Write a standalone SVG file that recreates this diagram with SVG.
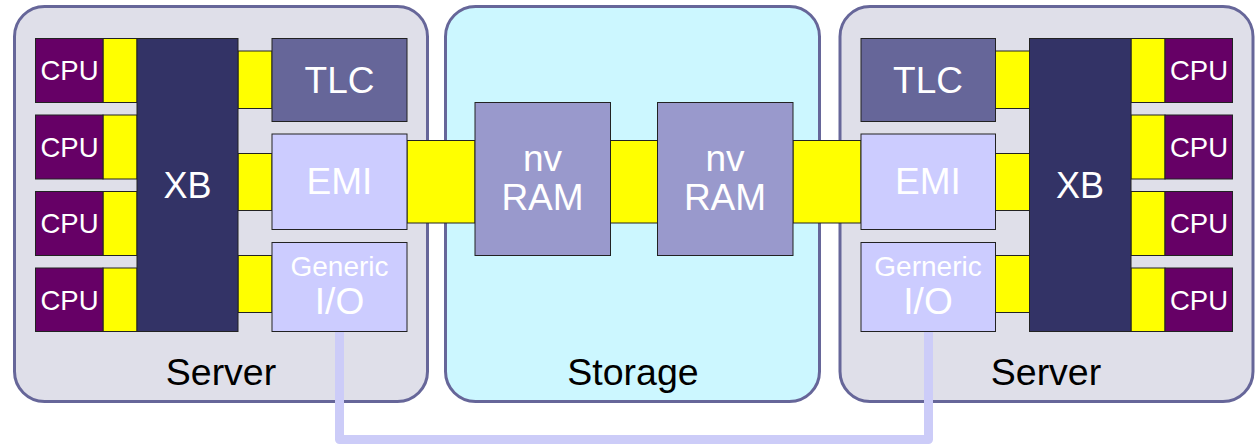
<svg xmlns="http://www.w3.org/2000/svg" width="1259" height="446" viewBox="0 0 1259 446">
<style>
text{font-family:"Liberation Sans",Arial,sans-serif;text-anchor:middle;fill:#fff}
.frame{stroke:#666699;stroke-width:3}
.srv{fill:#dfdfe9}
.sto{fill:#ccf7ff}
.b{stroke:#222;stroke-width:1}
.cpu{fill:#660066}
.y{fill:#ffff00}
.xb{fill:#333366}
.tlc{fill:#666699}
.emi{fill:#ccccff}
.nv{fill:#9999cc}
.lbl{fill:#000;font-size:37.5px}
.cpt{font-size:27.5px}
.big{font-size:37px}
.gen{font-size:28px}
</style>
<g id="server-left">
<rect class="srv frame" x="14.5" y="6.5" width="413" height="395" rx="30"/>
<text class="lbl" x="221" y="384.5">Server</text>
</g>
<g id="storage">
<rect class="sto frame" x="445.5" y="6.5" width="374" height="395" rx="30"/>
<text class="lbl" x="633" y="384.5">Storage</text>
</g>
<g id="server-right">
<rect class="srv frame" x="840" y="6.5" width="413" height="395" rx="30"/>
<text class="lbl" x="1046" y="384.5">Server</text>
</g>
<g id="connectors">
<rect class="y b" x="103" y="38.5" width="34" height="64"/>
<rect class="y b" x="103" y="115" width="34" height="64"/>
<rect class="y b" x="103" y="191.5" width="34" height="64"/>
<rect class="y b" x="103" y="268" width="34" height="63.5"/>
<rect class="y b" x="238" y="51" width="34" height="57.5"/>
<rect class="y b" x="238" y="153.5" width="34" height="57"/>
<rect class="y b" x="238" y="255.5" width="34" height="57"/>
<rect class="y b" x="407" y="140.5" width="68" height="82.5"/>
<rect class="y b" x="610.5" y="140.5" width="47" height="82.5"/>
<rect class="y b" x="793" y="140.5" width="68" height="82.5"/>
<rect class="y b" x="995.5" y="51" width="34" height="57.5"/>
<rect class="y b" x="995.5" y="153.5" width="34" height="57"/>
<rect class="y b" x="995.5" y="255.5" width="34" height="57"/>
<rect class="y b" x="1131" y="38.5" width="34" height="64"/>
<rect class="y b" x="1131" y="115" width="34" height="64"/>
<rect class="y b" x="1131" y="191.5" width="34" height="64"/>
<rect class="y b" x="1131" y="268" width="34" height="63.5"/>
<path d="M339.5 331.5 V439.5 H928.5 V331.5" fill="none" stroke="#ccccf8" stroke-width="9" stroke-linejoin="round"/>
</g>
<g id="cpu-l1"><rect class="cpu b" x="35.5" y="38.5" width="67.5" height="64"/><text class="cpt" x="69.5" y="80">CPU</text></g>
<g id="cpu-l2"><rect class="cpu b" x="35.5" y="115" width="67.5" height="64"/><text class="cpt" x="69.5" y="156.5">CPU</text></g>
<g id="cpu-l3"><rect class="cpu b" x="35.5" y="191.5" width="67.5" height="64"/><text class="cpt" x="69.5" y="233">CPU</text></g>
<g id="cpu-l4"><rect class="cpu b" x="35.5" y="268" width="67.5" height="63.5"/><text class="cpt" x="69.5" y="309.5">CPU</text></g>
<g id="xb-l"><rect class="xb b" x="137" y="38.5" width="101" height="293"/><text style="font-size:36px" x="187.5" y="197.5">XB</text></g>
<g id="tlc-l"><rect class="tlc b" x="272" y="38.5" width="135" height="83"/><text class="big" x="339.5" y="92.5">TLC</text></g>
<g id="emi-l"><rect class="emi b" x="272" y="134" width="135" height="95.5"/><text class="big" x="339.5" y="194">EMI</text></g>
<g id="io-l"><rect class="emi b" x="272" y="242.5" width="135" height="89"/><text class="gen" x="339.5" y="275.5">Generic</text><text class="big" x="339.5" y="313.5">I/O</text></g>
<g id="nvram-1"><rect class="nv b" x="475" y="102.5" width="135.5" height="153"/><text class="big" x="542.5" y="170.5">nv</text><text class="big" x="542.5" y="210">RAM</text></g>
<g id="nvram-2"><rect class="nv b" x="657.5" y="102.5" width="135.5" height="153"/><text class="big" x="725" y="170.5">nv</text><text class="big" x="725" y="210">RAM</text></g>
<g id="tlc-r"><rect class="tlc b" x="861" y="38.5" width="134.5" height="83"/><text class="big" x="928" y="92.5">TLC</text></g>
<g id="emi-r"><rect class="emi b" x="861" y="134" width="134.5" height="95.5"/><text class="big" x="928" y="194">EMI</text></g>
<g id="io-r"><rect class="emi b" x="861" y="242.5" width="134.5" height="89"/><text class="gen" x="928" y="275.5">Gerneric</text><text class="big" x="928" y="313.5">I/O</text></g>
<g id="xb-r"><rect class="xb b" x="1029.5" y="38.5" width="101.5" height="293"/><text style="font-size:36px" x="1080" y="197.5">XB</text></g>
<g id="cpu-r1"><rect class="cpu b" x="1165" y="38.5" width="67.5" height="64"/><text class="cpt" x="1199" y="80">CPU</text></g>
<g id="cpu-r2"><rect class="cpu b" x="1165" y="115" width="67.5" height="64"/><text class="cpt" x="1199" y="156.5">CPU</text></g>
<g id="cpu-r3"><rect class="cpu b" x="1165" y="191.5" width="67.5" height="64"/><text class="cpt" x="1199" y="233">CPU</text></g>
<g id="cpu-r4"><rect class="cpu b" x="1165" y="268" width="67.5" height="63.5"/><text class="cpt" x="1199" y="309.5">CPU</text></g>
</svg>
